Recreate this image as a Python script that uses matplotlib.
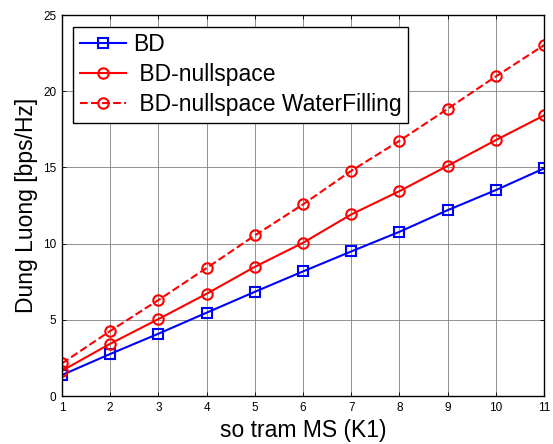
import matplotlib
matplotlib.use("Agg")
import matplotlib.pyplot as plt

x = [1, 2, 3, 4, 5, 6, 7, 8, 9, 10, 11]
bd = [1.38, 2.76, 4.09, 5.47, 6.84, 8.18, 9.49, 10.78, 12.2, 13.52, 14.94]
bd_null = [1.66, 3.43, 5.05, 6.71, 8.48, 10.06, 11.92, 13.45, 15.11, 16.8, 18.42]
bd_null_wf = [2.14, 4.27, 6.30, 8.40, 10.54, 12.58, 14.78, 16.75, 18.85, 20.98, 23.03]
labels = ["BD", " BD-nullspace", " BD-nullspace WaterFilling"]

plt.rcParams['font.family'] = ['Liberation Sans', 'DejaVu Sans']

fig = plt.figure(figsize=(5.53, 4.44), dpi=100)
ax = fig.add_axes([0.112, 0.108, 0.872, 0.858])

ax.plot(x, bd, '-s', color='#0000ff', lw=1.5, ms=7, mfc='none', mew=1.5, label=labels[0])
ax.plot(x, bd_null, '-o', color='#ff0000', lw=1.5, ms=7.5, mfc='none', mew=1.5, label=labels[1])
ax.plot(x, bd_null_wf, '--o', color='#ff0000', lw=1.5, ms=7.5, mfc='none', mew=1.5, label=labels[2])

ax.set_xlim(1, 11)
ax.set_ylim(0, 25)
ax.set_xticks(x)
ax.set_yticks([0, 5, 10, 15, 20, 25])
ax.grid(True, color='#808080', lw=0.6)
ax.tick_params(direction='in', top=True, right=True, labelsize=8.5, length=3, width=0.6, pad=4)
for s in ax.spines.values():
    s.set_linewidth(1.0)

ax.set_xlabel("so tram MS (K1)", fontsize=16.5, labelpad=4)
ax.set_ylabel("Dung Luong [bps/Hz]", fontsize=16.5, labelpad=4)

leg = ax.legend(loc='upper left', fontsize=16.5, fancybox=False, framealpha=1,
                edgecolor='black', borderpad=0.3, labelspacing=0.3,
                handlelength=2.0, handletextpad=0.3, borderaxespad=0.5)
leg.get_frame().set_linewidth(1.0)

fig.savefig("out.png", dpi=100)
